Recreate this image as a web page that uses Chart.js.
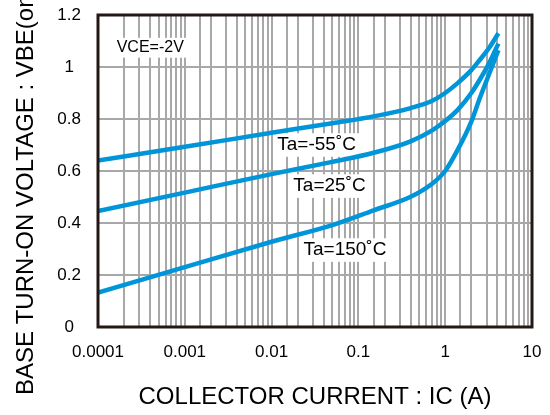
<!DOCTYPE html>
<html>
<head>
<meta charset="UTF-8">
<title>VBE(on) - IC</title>
<style>
  body { margin: 0; background: #fff; }
  canvas { display: block; }
</style>
</head>
<body>
<canvas id="myChart" width="550" height="415"></canvas>
<script src="https://cdn.jsdelivr.net/npm/chart.js"></script>
<script>
// collector current (A) and VBE(on) (V)
const currentA   = [0.0001, 0.001, 0.01, 0.05, 0.15, 0.4, 0.7, 1, 1.4, 2, 2.5, 3.2, 4.1];
const vbeMinus55 = [0.64, 0.693, 0.747, 0.784, 0.81, 0.842, 0.869, 0.90, 0.939, 0.988, 1.027, 1.073, 1.13];
const vbe25      = [0.446, 0.517, 0.588, 0.635, 0.67, 0.714, 0.755, 0.792, 0.836, 0.90, 0.951, 1.014, 1.09];
const vbe150     = [0.132, 0.23, 0.328, 0.392, 0.449, 0.501, 0.55, 0.60, 0.683, 0.79, 0.88, 0.972, 1.065];
const yTicks     = [0, 0.2, 0.4, 0.6, 0.8, 1, 1.2];
const xTickLabels = ['0.0001', '0.001', '0.01', '0.1', '1', '10'];

const blue = '#0095d9';

function pts(ys) {
    return currentA.map((x, i) => ({ x: x, y: ys[i] }));
}

function curve(label, ys) {
    return {
        label: label,
        data: pts(ys),
        showLine: true,
        borderColor: blue,
        borderWidth: 4.5,
        pointRadius: 0,
        fill: false,
        cubicInterpolationMode: 'monotone'
    };
}

// text labels with white boxes, placed in data coordinates
const notes = [
    { text: 'VCE=-2V',  x: 0.0004, y: 1.074, size: 16 },
    { text: 'Ta=-55˚C', x: 0.033,  y: 0.700, size: 19 },
    { text: 'Ta=25˚C',  x: 0.0465, y: 0.542, size: 19 },
    { text: 'Ta=150˚C', x: 0.070,  y: 0.296, size: 19 }
];

const extras = {
    id: 'extras',
    beforeDatasetsDraw(chart) {
        const ctx = chart.ctx;
        const xs = chart.scales.x, ys = chart.scales.y;
        ctx.save();
        ctx.textAlign = 'center';
        ctx.textBaseline = 'middle';
        notes.forEach(n => {
            ctx.font = n.size + 'px "Liberation Sans", Arial, sans-serif';
            const px = xs.getPixelForValue(n.x);
            const py = ys.getPixelForValue(n.y);
            const w = ctx.measureText(n.text).width;
            ctx.fillStyle = '#fff';
            ctx.fillRect(px - w / 2 - 4, py - n.size * 0.62, w + 8, n.size * 1.24);
            ctx.fillStyle = '#000';
            ctx.fillText(n.text, px, py);
        });
        ctx.restore();
    },
    afterDraw(chart) {
        const ctx = chart.ctx;
        const a = chart.chartArea;
        ctx.save();
        ctx.strokeStyle = '#231815';
        ctx.lineWidth = 3;
        ctx.strokeRect(a.left, a.top, a.right - a.left, a.bottom - a.top);

        ctx.fillStyle = '#000';
        ctx.font = '24px "Liberation Sans", Arial, sans-serif';
        ctx.textAlign = 'center';
        ctx.textBaseline = 'middle';
        ctx.fillText('COLLECTOR CURRENT : IC (A)', (a.left + a.right) / 2, 397);

        ctx.translate(33, 395);
        ctx.rotate(-Math.PI / 2);
        ctx.textAlign = 'left';
        ctx.textBaseline = 'alphabetic';
        ctx.fillText('BASE TURN-ON VOLTAGE : VBE(on) (V)', 0, 0);
        ctx.restore();
    }
};

Chart.defaults.font.family = '"Liberation Sans", Arial, sans-serif';
Chart.defaults.color = '#000';

const ctx = document.getElementById('myChart').getContext('2d');
const chart = new Chart(ctx, {
    type: 'scatter',
    data: {
        datasets: [
            curve('Ta=-55˚C', vbeMinus55),
            curve('Ta=25˚C', vbe25),
            curve('Ta=150˚C', vbe150)
        ]
    },
    options: {
        responsive: false,
        animation: false,
        layout: { padding: { top: 15, right: 18, left: 0, bottom: 0 } },
        plugins: {
            legend: { display: false },
            tooltip: { enabled: false }
        },
        scales: {
            x: {
                type: 'logarithmic',
                min: 0.0001,
                max: 10,
                afterFit: s => {
                    s.height = 88;
                    s.paddingLeft = 0;
                    s.paddingRight = 0;
                },
                border: { display: false },
                grid: { color: '#a8a8a8', lineWidth: 2, drawTicks: false },
                ticks: {
                    autoSkip: false,
                    maxRotation: 0,
                    padding: 15,
                    font: { size: 17 },
                    callback: function(value) {
                        const lg = Math.log10(value);
                        if (Math.abs(lg - Math.round(lg)) < 1e-6) {
                            return xTickLabels[Math.round(lg) + 4];
                        }
                        return '';
                    }
                }
            },
            y: {
                min: 0,
                max: 1.2,
                afterFit: s => {
                    s.width = 98;
                    s.paddingTop = 0;
                    s.paddingBottom = 0;
                },
                afterBuildTicks: s => { s.ticks = yTicks.map(v => ({ value: v })); },
                border: { display: false },
                grid: { color: '#a8a8a8', lineWidth: 2, drawTicks: false },
                ticks: {
                    crossAlign: 'center',
                    padding: 17,
                    font: { size: 17 },
                    callback: v => String(v)
                }
            }
        }
    },
    plugins: [extras]
});
</script>
</body>
</html>
